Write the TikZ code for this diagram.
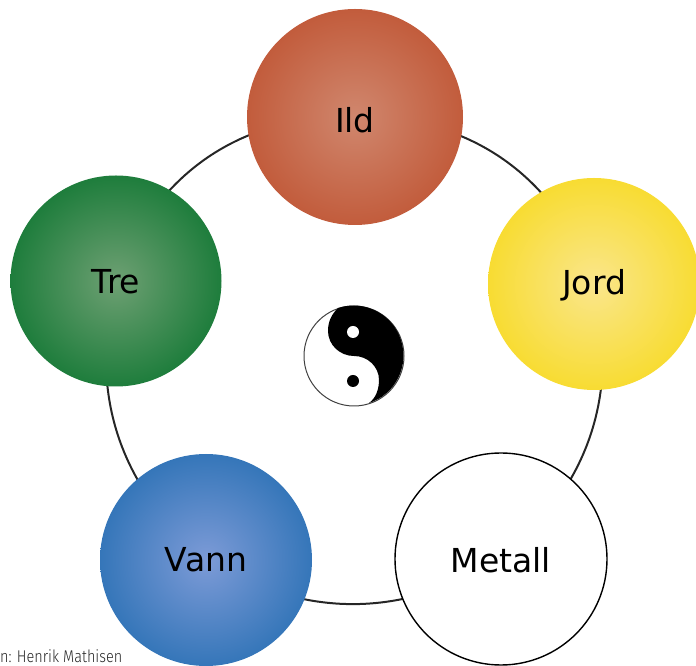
\documentclass[tikz,border=0pt]{standalone}
\usepackage{fontspec}
\setmainfont{DejaVu Sans}
\newfontfamily\creditfont[FakeStretch=0.85]{Fira Sans Light}
\usetikzlibrary{backgrounds}
\definecolor{ildout}{RGB}{194,92,60}
\definecolor{ildin}{RGB}{208,135,110}
\definecolor{jordout}{RGB}{248,220,50}
\definecolor{jordin}{RGB}{250,230,140}
\definecolor{treout}{RGB}{30,125,60}
\definecolor{trein}{RGB}{110,160,115}
\definecolor{vannout}{RGB}{53,118,185}
\definecolor{vannin}{RGB}{125,155,215}
\tikzset{
  element/.style 2 args={circle, minimum size=#1, inner sep=0pt, text height=#2, text depth=0pt, font=\fontsize{33}{38}\selectfont},
  ringline/.style={line width=2pt, color=black!85}
}
\begin{document}
\begin{tikzpicture}[x=1pt, y=1pt]
\useasboundingbox (0,0) rectangle (696,666);
\node (ild)[element={216pt}{31pt}, inner color=ildin, outer color=ildout] at (355,549) {Ild};
\node (jord)[element={212pt}{22pt}, inner color=jordin, outer color=jordout] at (594,382) {Jord};
\node (metall)[element={212pt}{28pt}, draw, line width=1.4pt, fill=white] at (501,107) {Metall};
\node (vann)[element={212pt}{24pt}, inner color=vannin, outer color=vannout] at (206,106) {Vann};
\node (tre)[element={211pt}{26pt}, inner color=trein, outer color=treout] at (116,385) {Tre};
\begin{scope}[on background layer]
\draw[ringline] (ild.center) to[bend left=36] (jord.center);
\draw[ringline] (jord.center) to[bend left=32] (metall.center);
\draw[ringline] (metall.center) to[bend left=31] (vann.center);
\draw[ringline] (vann.center) to[bend left=32] (tre.center);
\draw[ringline] (tre.center) to[bend left=36] (ild.center);
\end{scope}
\node (taiji)[draw, circle, minimum size=100pt, inner sep=0pt, line width=1pt, color=black!75, fill=white] at (354,310) {};
\fill[black] (338,358) arc (108:-72:50pt) .. controls (376,268) and (379,277) .. (379,286) .. controls (379,299) and (368,310) .. (354,310) .. controls (340,310) and (328,321) .. (328,335) .. controls (328,345) and (332,352) .. cycle;
\node (dotw)[circle, fill=white, minimum size=12pt, inner sep=0pt] at (353,334) {};
\node (dotb)[circle, fill=black, minimum size=12pt, inner sep=0pt] at (353,285) {};
\node (credit)[anchor=base west, inner sep=0pt, font=\creditfont\fontsize{17}{19}\selectfont, color=black!85] at (0,3) {n: Henrik Mathisen};
\end{tikzpicture}
\end{document}
